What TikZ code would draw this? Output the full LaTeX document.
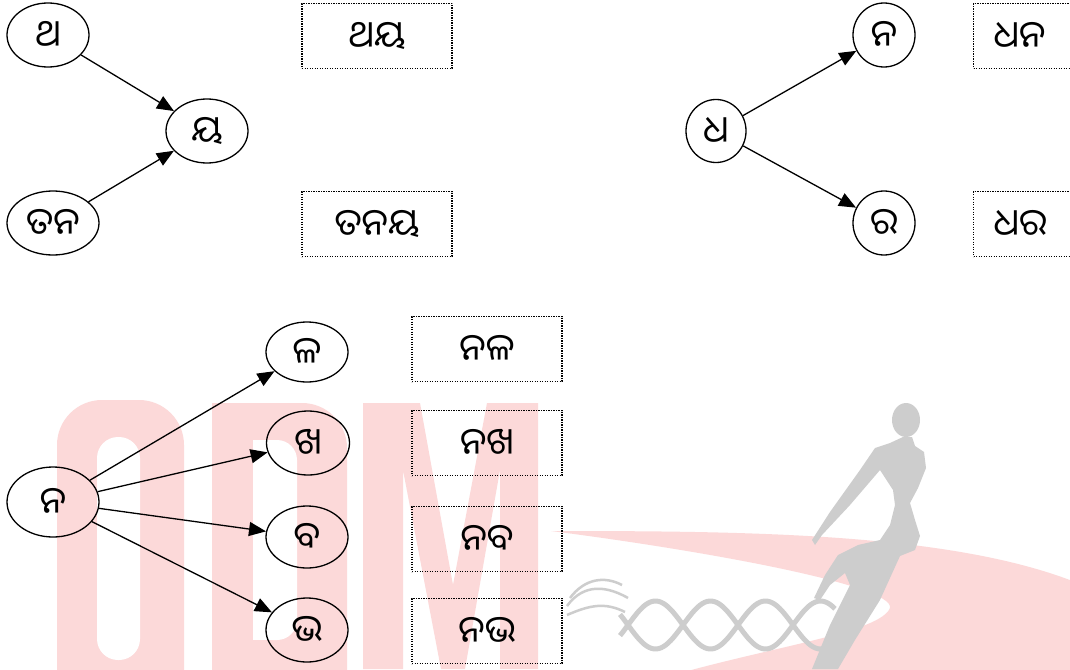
\documentclass[tikz,border=0pt]{standalone}
\usepackage{fontspec}
\newfontfamily\odia[Script=Oriya]{Noto Sans Oriya UI}
\usetikzlibrary{shapes.geometric,arrows.meta}
\definecolor{wmpink}{RGB}{252,217,217}
\definecolor{wmgray}{RGB}{205,205,205}
\tikzset{
  oval/.style={ellipse, draw, line width=1.3pt, inner sep=0pt, font=\odia\fontsize{37}{42}\selectfont},
  wbox/.style={draw, line width=1.1pt, dash pattern=on 1.1pt off 1.4pt, minimum width=150pt, minimum height=65pt, inner sep=0pt, font=\odia\fontsize{37}{42}\selectfont},
  arr/.style={line width=1.3pt, -{Triangle[length=17pt,width=14pt]}},
}
\begin{document}
\begin{tikzpicture}[x=1pt,y=-1pt]
\clip (0,0) rectangle (1070,669);
\fill[white] (0,0) rectangle (1070,669);
% ---- watermark ----
% O
\fill[wmpink, rounded corners=45pt] (57,720) -- (57,400) -- (184,400) -- (184,720) -- cycle;
\fill[white, rounded corners=21pt] (97,660) -- (97,437) -- (140,437) -- (140,660) -- cycle;
% D
\fill[wmpink, rounded corners=45pt] (212,720) -- (212,403) -- (347,403) -- (347,720) -- cycle;
\fill[wmpink] (212,403) rectangle (270,720);
\fill[white, rounded corners=20pt] (253,640) -- (253,440) -- (297,440) -- (297,640) -- cycle;
\fill[white] (253,440) rectangle (275,640);
% M
\fill[wmpink] (363,669) -- (363,403) -- (420,403) -- (453,585) -- (487,403) -- (538,403) -- (538,669) -- (500,669) -- (500,470) -- (465,669) -- (441,669) -- (403,470) -- (403,669) -- cycle;
% swoosh
\fill[wmpink] (551,531) .. controls (750,531) and (950,533) .. (1075,582) -- (1075,675) -- (673,675)
  .. controls (780,645) and (880,632) .. (890,608)
  .. controls (895,585) and (700,550) .. (551,531) -- cycle;
% helix
\draw[wmgray, line width=5pt] plot[domain=620:835, samples=90] (\x, {625+24*sin(3.2727*(\x-683))});
\draw[wmgray, line width=5pt] plot[domain=620:835, samples=90] (\x, {625-24*sin(3.2727*(\x-683))});
\draw[wmgray, line width=2.5pt] (567,606) .. controls (580,588) and (600,582) .. (628,598);
\draw[wmgray, line width=2.5pt] (570,598) .. controls (585,578) and (605,576) .. (622,585);
\draw[wmgray, line width=2.5pt] (567,615) .. controls (590,605) and (605,602) .. (625,612);
% figure
\fill[wmgray] (906,420) ellipse[x radius=14pt, y radius=17pt];
\fill[wmgray] (903,437) -- (912,437) -- (915,446) -- (924,452) -- (926,468) -- (918,488) -- (910,503) -- (915,520) -- (920,536) -- (915,550) -- (900,556) -- (880,600) -- (855,640) -- (838,669) -- (812,669) -- (830,625) -- (850,585) -- (845,573) -- (830,585) -- (820,600) -- (814,598) -- (825,575) -- (838,555) -- (858,545) -- (880,540) -- (890,525) -- (895,505) -- (893,490) -- (880,470) -- (850,505) -- (822,535) -- (815,545) -- (812,540) -- (830,512) -- (860,470) -- (875,448) -- (890,443) -- cycle;
% ---- group 1 ----
\node[oval, minimum width=82pt, minimum height=64pt] (tha) at (48,35) {ଥ};
\node[oval, minimum width=82pt, minimum height=64pt] (ya) at (207,131) {ୟ};
\node[oval, minimum width=92pt, minimum height=64pt] (tana) at (53,223) {ତନ};
\node[wbox] (thaya) at (377,36) {ଥୟ};
\node[wbox] (tanaya) at (377,224) {ତନୟ};
\draw[arr] (tha) -- (ya);
\draw[arr] (tana) -- (ya);
% ---- group 2 ----
\node[oval, minimum width=60pt, minimum height=63pt] (dha) at (716,131) {ଧ};
\node[oval, minimum width=62pt, minimum height=64pt] (na1) at (884,35) {ନ};
\node[oval, minimum width=62pt, minimum height=64pt] (ra) at (884,223) {ର};
\node[wbox, anchor=west, minimum width=0pt, text width=110pt, inner xsep=20pt, align=left] (dhana) at (973,36) {ଧନ};
\node[wbox, anchor=west, minimum width=0pt, text width=110pt, inner xsep=20pt, align=left] (dhara) at (973,224) {ଧର};
\draw[arr] (dha) -- (na1);
\draw[arr] (dha) -- (ra);
% ---- group 3 ----
\node[oval, minimum width=92pt, minimum height=70pt] (na2) at (53,502) {ନ};
\node[oval, minimum width=82pt, minimum height=60pt] (la) at (307,352) {ଳ};
\node[oval, minimum width=83pt, minimum height=64pt] (kha) at (308,443) {ଖ};
\node[oval, minimum width=82pt, minimum height=62pt] (ba) at (307,537) {ବ};
\node[oval, minimum width=82pt, minimum height=64pt] (bha) at (307,630) {ଭ};
\node[wbox] (nala) at (487,349) {ନଳ};
\node[wbox] (nakha) at (487,443) {ନଖ};
\node[wbox] (naba) at (487,539) {ନବ};
\node[wbox] (nabha) at (487,631) {ନଭ};
\draw[arr] (na2) -- (la);
\draw[arr] (na2) -- (kha);
\draw[arr] (na2) -- (ba);
\draw[arr] (na2) -- (bha);
\end{tikzpicture}
\end{document}
